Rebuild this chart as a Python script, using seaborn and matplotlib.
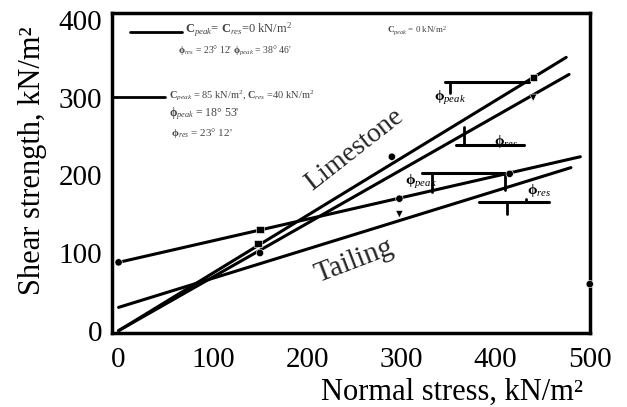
import matplotlib
matplotlib.use("Agg")
import matplotlib.pyplot as plt
import seaborn as sns
import pandas as pd

# ---- data ----
series_names = ["Limestone peak", "Limestone residual", "Tailing peak", "Tailing residual"]
line_x = {"Limestone peak": [0, 475], "Limestone residual": [0, 478],
          "Tailing peak": [0, 490], "Tailing residual": [0, 480]}
line_y = {"Limestone peak": [0, 352], "Limestone residual": [0, 330],
          "Tailing peak": [88, 224], "Tailing residual": [30, 210]}

pt_x = [148, 290, 440, 150, 440, 0, 150, 298, 415, 298, 500]
pt_y = [112, 224, 326, 100, 300, 88, 130, 170, 202, 150, 60]
pt_kind = ["s", "o", "s", "o", "v", "o", "s", "o", "o", "v", "o"]

x_ticks = [0, 100, 200, 300, 400, 500]
y_ticks = [0, 100, 200, 300, 400]

sns.set_theme(style="white")
plt.rcParams["font.family"] = ["Liberation Serif", "DejaVu Serif"]
plt.rcParams["mathtext.fontset"] = "custom"
plt.rcParams["mathtext.rm"] = "Liberation Serif"
plt.rcParams["mathtext.it"] = "Liberation Serif:italic"
plt.rcParams["mathtext.bf"] = "Liberation Serif:bold"

rows = []
for s in series_names:
    for xv, yv in zip(line_x[s], line_y[s]):
        rows.append({"series": s, "x": xv, "y": yv})
df = pd.DataFrame(rows)
pts = pd.DataFrame({"x": pt_x, "y": pt_y, "kind": pt_kind})

fig = plt.figure(figsize=(6.27, 4.07), dpi=100)
ax = fig.add_axes([0.1786, 0.1818, 0.762, 0.786])

sns.lineplot(data=df, x="x", y="y", hue="series", palette=["black"] * 4,
             linewidth=2.2, legend=False, ax=ax, estimator=None, sort=False)
sns.scatterplot(data=pts, x="x", y="y", style="kind",
                markers={"s": "s", "o": "o", "v": "v"}, color="black",
                s=28, legend=False, ax=ax, zorder=5, clip_on=False)

# angle construction segments
segs = [((346, 435), (320, 320)), ((358, 430), (239, 239)),
        ((322, 416), (203, 203)), ((382, 457), (166, 166))]
for (xa, xb), (ya, yb) in segs:
    ax.plot([xa, xb], [ya, yb], color="black", lw=2.2)
vsegs = [(352, 306, 320), (367, 239, 262), (333, 203, 178), (410, 203, 181),
         (412, 166, 150), (432, 166, 170)]
for xv, ya, yb in vsegs:
    ax.plot([xv, xv], [ya, yb], color="black", lw=2)

# legend lines
ax.plot([12, 67], [385, 385], color="black", lw=2)
ax.plot([-7, 49], [301, 301], color="black", lw=2)

gray = "#444444"
ax.text(70, 387, r"$\mathbf{C}_{peak}$= $\mathbf{C}_{res}$=0 kN/m$^2$", va="center", fontsize=9, color=gray)
ax.text(63, 360, r"$\mathbf{\phi}_{res}$ = 23$\degree$ 12' $\mathbf{\phi}_{peak}$ = 38$\degree$ 46'", va="center", fontsize=7, color=gray)
ax.text(285, 387, r"$\mathbf{C}_{peak}$ = 0 kN/m$^2$", va="center", fontsize=6.5, color=gray)
ax.text(54, 303, r"$\mathbf{C}_{peak}$ = 85 kN/m$^2$, $\mathbf{C}_{res}$ =40 kN/m$^2$", va="center", fontsize=7.5, color=gray)
ax.text(54, 280, r"$\mathbf{\phi}_{peak}$ = 18$\degree$ 53'", va="center", fontsize=8.5, color=gray)
ax.text(56, 255, r"$\mathbf{\phi}_{res}$ = 23$\degree$ 12'", va="center", fontsize=8, color=gray)

ax.text(335, 300, r"$\mathbf{\phi}_{peak}$", fontsize=11, color="black", va="center")
ax.text(398, 244, r"$\mathbf{\phi}_{res}$", fontsize=11, color="black", va="center")
ax.text(304, 192, r"$\mathbf{\phi}_{peak}$", fontsize=11, color="black", va="center")
ax.text(433, 180, r"$\mathbf{\phi}_{res}$", fontsize=11, color="black", va="center")

ax.text(250, 233, "Limestone", fontsize=20, rotation=38, ha="center", va="center")
ax.text(250, 89, "Tailing", fontsize=21, rotation=21, ha="center", va="center")

ax.set_xlim(-7, 500)
ax.set_ylim(-3, 409)
ax.set_xticks(x_ticks)
ax.set_yticks(y_ticks)
ax.tick_params(direction="in", length=8, width=2, labelsize=21, colors="black")
ax.tick_params(axis="x", pad=10)
ax.tick_params(axis="y", pad=7)
for sp in ax.spines.values():
    sp.set_linewidth(2.5)
    sp.set_color("black")
ax.set_xlabel("Normal stress, kN/m²", fontsize=22)
ax.set_ylabel("Shear strength, kN/m²", fontsize=22)
ax.xaxis.set_label_coords(0.711, -0.184)
ax.xaxis.label.set_va("center")
ax.yaxis.set_label_coords(-0.167, 0.54)
ax.yaxis.label.set_va("center")
ax.xaxis.label.set_color("black")
ax.yaxis.label.set_color("black")

fig.savefig("out.png", dpi=100)
